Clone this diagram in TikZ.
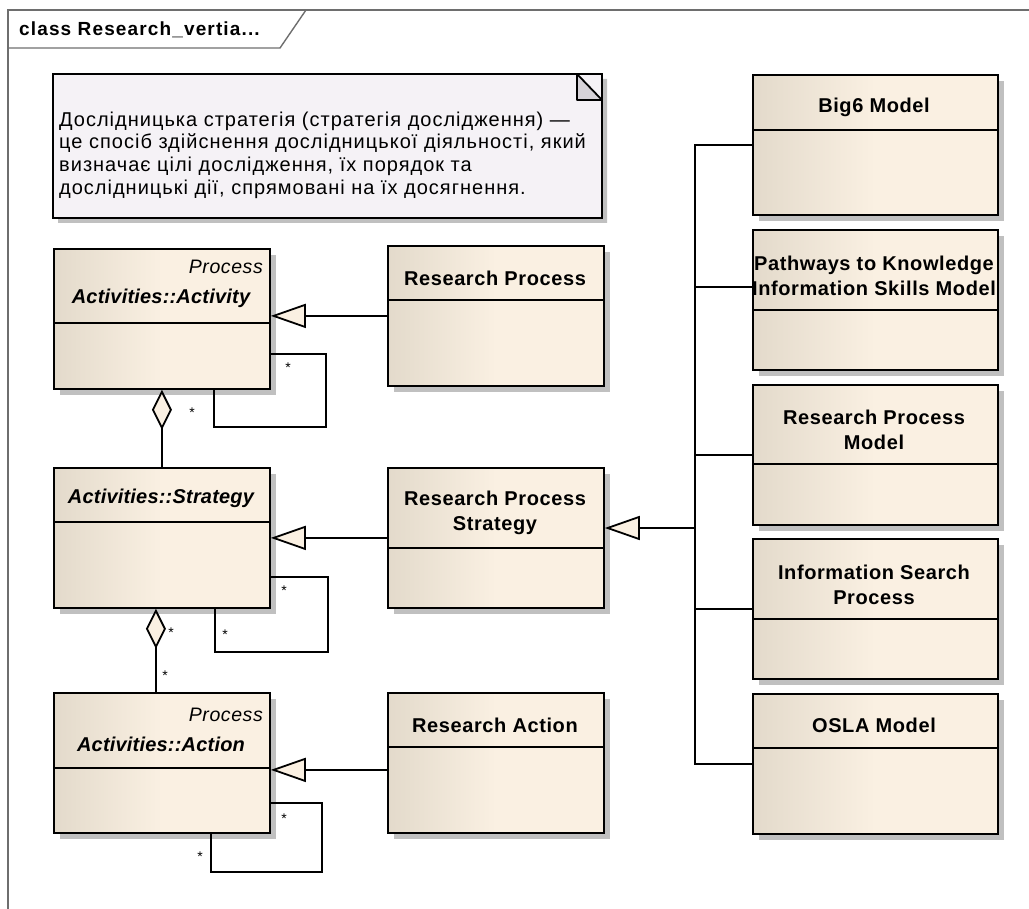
\documentclass[tikz,border=0pt]{standalone}
\usepackage{fontspec}
\setmainfont{Liberation Sans}
\usetikzlibrary{arrows.meta,shadows,shapes.misc}
\definecolor{clsleft}{RGB}{227,218,203}
\definecolor{clsright}{RGB}{250,240,226}
\definecolor{notefill}{RGB}{245,242,246}
\definecolor{foldfill}{RGB}{214,210,216}
\definecolor{shadowgray}{RGB}{192,192,192}
\definecolor{framegray}{RGB}{110,110,110}
\tikzset{
  cls/.style={draw=black, line width=1.8pt, left color=clsleft, right color=clsright, middle color=clsright,
              minimum width=216pt, minimum height=140pt, anchor=north west, inner sep=0pt,
              drop shadow={shadow xshift=6pt, shadow yshift=-6pt, fill=shadowgray, opacity=1}},
  wide/.style={minimum width=245pt},
  divider/.style={line width=1.8pt},
  note/.style={chamfered rectangle, chamfered rectangle corners=north east, chamfered rectangle xsep=25pt,
               chamfered rectangle ysep=26pt, draw=black, line width=1.8pt, fill=notefill,
               minimum width=549pt, minimum height=144pt, inner sep=0pt,
               drop shadow={shadow xshift=5pt, shadow yshift=-5pt, fill=shadowgray, opacity=1}},
  fold/.style={draw=black, line width=1.8pt, fill=foldfill, line join=round},
  notetxt/.style={font=\fontsize{20}{22.7}\selectfont\addfontfeature{LetterSpace=5}, align=left, anchor=west, inner sep=0pt},
  clsname/.style={font=\fontsize{20}{25}\selectfont\bfseries\addfontfeature{LetterSpace=3}, align=center, inner sep=0pt},
  absname/.style={font=\fontsize{20}{25}\selectfont\bfseries\itshape\addfontfeature{LetterSpace=1}, inner sep=0pt},
  stereo/.style={font=\fontsize{19.5}{23}\selectfont\itshape\addfontfeature{LetterSpace=3}, anchor=east, inner sep=0pt},
  mult/.style={font=\fontsize{14}{16}\selectfont, inner sep=0pt},
  assoc/.style={line width=1.8pt},
  gen/.style={line width=1.8pt, -{Triangle[length=35pt, width=24pt, fill=clsright]}},
  aggr/.style={line width=1.8pt, {Diamond[length=40pt, width=20pt, fill=clsright]}-},
  frameline/.style={draw=framegray, line width=1.4pt},
}
\begin{document}
\begin{tikzpicture}[x=1pt, y=-1pt]
\useasboundingbox (0,0) rectangle (1029,909);
\draw[frameline] (1029,10) -- (8,10) -- (8,909);
\draw[frameline] (8,48) -- (280,48) -- (306,10);
\node[font=\fontsize{19}{20}\selectfont\bfseries\addfontfeature{LetterSpace=6}, anchor=west, inner sep=0pt] (frametitle) at (19,30) {class Research\_vertia...};

\node[note] (note) at (327.5,146) {};
\filldraw[fold] (577,74) -- (602,100) -- (577,100) -- cycle;
\node[notetxt] (notetext) at (59,155) {Дослідницька стратегія (стратегія дослідження) —\\це спосіб здійснення дослідницької діяльності, який\\визначає цілі дослідження, їх порядок та\\дослідницькі дії, спрямовані на їх досягнення.};

\node[cls] (act)  at ( 53,248) {};
\node[cls] (str)  at ( 53,467) {};
\node[cls] (acn)  at ( 53,692) {};
\node[cls] (rp)   at (387,245) {};
\node[cls] (rps)  at (387,467) {};
\node[cls] (ra)   at (387,692) {};
\node[cls, wide] (big6) at (752, 74) {};
\node[cls, wide] (path) at (752,229) {};
\node[cls, wide] (rpm)  at (752,384) {};
\node[cls, wide] (isp)  at (752,538) {};
\node[cls, wide] (osla) at (752,693) {};

\draw[divider] ([yshift=-75pt]act.north west)  -- ([yshift=-75pt]act.north east);
\draw[divider] ([yshift=-55pt]str.north west)  -- ([yshift=-55pt]str.north east);
\draw[divider] ([yshift=-76pt]acn.north west)  -- ([yshift=-76pt]acn.north east);
\draw[divider] ([yshift=-55pt]rp.north west)   -- ([yshift=-55pt]rp.north east);
\draw[divider] ([yshift=-81pt]rps.north west)  -- ([yshift=-81pt]rps.north east);
\draw[divider] ([yshift=-55pt]ra.north west)   -- ([yshift=-55pt]ra.north east);
\draw[divider] ([yshift=-56pt]big6.north west) -- ([yshift=-56pt]big6.north east);
\draw[divider] ([yshift=-81pt]path.north west) -- ([yshift=-81pt]path.north east);
\draw[divider] ([yshift=-80pt]rpm.north west)  -- ([yshift=-80pt]rpm.north east);
\draw[divider] ([yshift=-81pt]isp.north west)  -- ([yshift=-81pt]isp.north east);
\draw[divider] ([yshift=-55pt]osla.north west) -- ([yshift=-55pt]osla.north east);

\node[stereo]  (actstereo) at (263,267) {Process};
\node[absname] (actname)   at (161,298) {Activities::Activity};
\node[absname] (strname)   at (161,498) {Activities::Strategy};
\node[stereo]  (acnstereo) at (263,715) {Process};
\node[absname] (acnname)   at (161,744) {Activities::Action};
\node[clsname] (rpname)    at (495,278) {Research Process};
\node[clsname] (rpsname)   at (495,513) {Research Process\\Strategy};
\node[clsname] (raname)    at (495,725) {Research Action};
\node[clsname] (big6name)  at (874,107) {Big6 Model};
\node[clsname] (pathname)  at (874,276) {Pathways to Knowledge\\Information Skills Model};
\node[clsname] (rpmname)   at (874,430) {Research Process\\Model};
\node[clsname] (ispname)   at (874,585) {Information Search\\Process};
\node[clsname] (oslaname)  at (874,725) {OSLA Model};

\draw[gen] (rp.west)  -- (act.east |- rp.west);
\draw[gen] (rps.west) -- (str.east |- rps.west);
\coordinate (rajoin) at ([yshift=-7pt]ra.west);
\draw[gen] (rajoin) -- (acn.east |- rajoin);

\coordinate (fork) at (695,528);
\draw[gen] (fork) -- (rps.east |- fork);
\draw[assoc] (big6.west) -| (fork);
\draw[assoc] ([yshift=13pt]path.west) -| (fork);
\draw[assoc] (rpm.west) -| (fork);
\draw[assoc] (isp.west) -| (fork);
\draw[assoc] (osla.west) -| (fork);

\draw[aggr] (act.south) -- (str.north);
\draw[aggr] ([xshift=-6pt]str.south) -- ([xshift=-6pt]acn.north);

\draw[assoc] ([yshift=-35.5pt]act.east) -- ++(55,0) -- ++(0,73) -- ++(-112,0) -- ++(0,-39);
\draw[assoc] ([yshift=-39pt]str.east)   -- ++(57,0) -- ++(0,75) -- ++(-113,0) -- ++(0,-44);
\draw[assoc] ([yshift=-40pt]acn.east)   -- ++(51,0) -- ++(0,69) -- ++(-111,0) -- ++(0,-39);

\node[mult] (m1) at (288,368) {*};
\node[mult] (m2) at (192,413) {*};
\node[mult] (m3) at (284,591) {*};
\node[mult] (m4) at (225,635) {*};
\node[mult] (m5) at (171,633) {*};
\node[mult] (m6) at (165,676) {*};
\node[mult] (m7) at (284,819) {*};
\node[mult] (m8) at (200,857) {*};
\end{tikzpicture}
\end{document}
